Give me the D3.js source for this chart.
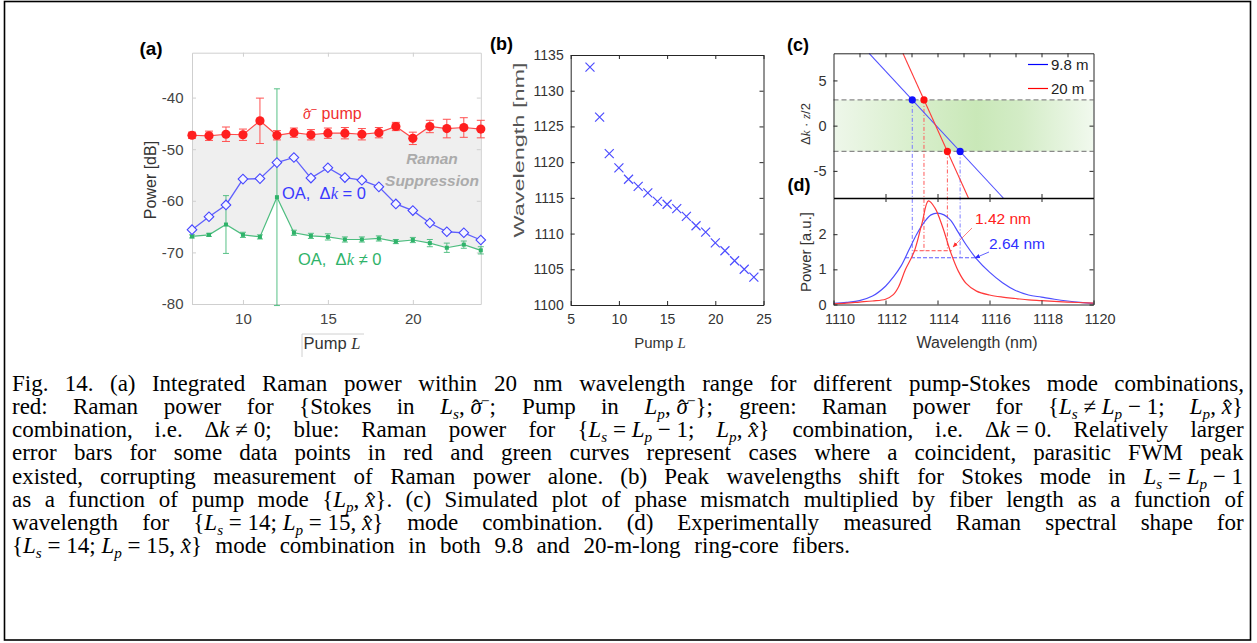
<!DOCTYPE html>
<html><head><meta charset="utf-8">
<script src="https://cdn.jsdelivr.net/npm/d3@7"></script>
<style>body{margin:0;background:#fff}svg{display:block}</style>
</head><body>
<svg id="c" width="1257" height="643"></svg>
<script>
// ---------------- DATA ----------------
const pumpL = [7,8,9,10,11,12,13,14,15,16,17,18,19,20,21,22,23,24];
const sigmaPower = [-47.3,-47.4,-47.1,-47.2,-44.5,-47.3,-46.8,-47.2,-46.9,-46.9,-47.1,-46.8,-45.6,-47.9,-45.6,-46.0,-45.8,-46.1];
const sigmaErr   = [0.6,0.9,1.4,1.1,4.4,0.9,0.9,1.0,1.0,1.1,1.1,1.0,0.8,1.2,1.2,1.8,1.9,1.7];
const oaMatched  = [-65.6,-63.1,-60.8,-55.8,-55.7,-52.6,-51.6,-55.6,-53.6,-55.5,-56.0,-57.3,-60.6,-61.9,-64.3,-66.0,-66.2,-67.6];
const oaMismatch = [-66.9,-66.6,-64.6,-66.6,-67.0,-59.3,-66.2,-66.8,-67.0,-67.5,-67.5,-67.3,-67.9,-67.6,-68.2,-69.1,-68.5,-69.6];
const oaMismatchErr = [0.3,0.3,5.6,0.5,0.4,21,0.5,0.5,0.6,0.5,0.5,0.5,0.4,0.5,0.7,0.9,0.7,0.7];
const peakWavelength = [1133.3,1126.3,1121.2,1119.2,1117.6,1116.6,1115.7,1114.5,1114.1,1113.5,1112.4,1111.1,1110.2,1108.7,1107.6,1106.2,1105.0,1103.9];

const ticksAx = [10,15,20];
const ticksAy = [-80,-70,-60,-50,-40];
const ticksBx = [5,10,15,20,25];
const ticksBy = [1100,1105,1110,1115,1120,1125,1130,1135];

const mismatchWl98 = [1111.37,1116.53];
const mismatchVal98 = [8,-8];
const mismatchWl20 = [1112.67,1115.19];
const mismatchVal20 = [8,-8];
const bandHalf = 2.85;
const crossWl98 = [1113.03,1114.87];
const crossVal98 = [2.85,-2.85];
const crossWl20 = [1113.48,1114.38];
const crossVal20 = [2.85,-2.85];

const specWl98 = [1110,1110.5,1111,1111.5,1112,1112.3,1112.6,1112.9,1113.2,1113.5,1113.75,1114,1114.25,1114.5,1114.8,1115.1,1115.5,1116,1116.5,1117,1117.5,1118,1118.5,1119,1119.5,1120];
const specP98  = [0.03,0.06,0.11,0.24,0.52,0.78,1.1,1.55,2.0,2.35,2.55,2.6,2.55,2.4,2.05,1.7,1.3,0.92,0.62,0.4,0.27,0.21,0.15,0.1,0.06,0.03];
const specWl20 = [1110,1110.5,1111,1111.5,1112,1112.3,1112.5,1112.77,1113.1,1113.4,1113.65,1113.9,1114.2,1114.5,1114.8,1115.1,1115.5,1116,1116.5,1117,1117.5,1118,1119,1120];
const specP20  = [0.02,0.04,0.07,0.1,0.15,0.28,0.5,1.0,1.5,2.3,2.95,2.75,2.2,1.5,0.95,0.6,0.38,0.27,0.21,0.17,0.13,0.11,0.07,0.04];
const halfLevel98 = 1.33, halfLevel20 = 1.53;
const halfSpan98 = [1112.75,1115.45];
const halfSpan20 = [1113.08,1114.55];

const ticksCy = [-5,0,5];
const ticksCtop = [1111,1112,1113,1114,1115,1116,1117,1118,1119];
const ticksDx = [1110,1112,1114,1116,1118,1120];
const ticksDy = [0,1,2];
const legendNames = ["9.8 m","20 m"];

const captionLines = [
 "Fig. 14. (a) Integrated Raman power within 20 nm wavelength range for different pump-Stokes mode combinations,",
 "red: Raman power for {Stokes in @Ls,~@sig; Pump in @Lp,~@sig}; green: Raman power for {@Ls~≠~@Lp~−~1; @Lp,~@xh}",
 "combination, i.e. @dk~≠~0; blue: Raman power for {@Ls~=~@Lp~−~1; @Lp,~@xh} combination, i.e. @dk~=~0. Relatively larger",
 "error bars for some data points in red and green curves represent cases where a coincident, parasitic FWM peak",
 "existed, corrupting measurement of Raman power alone. (b) Peak wavelengths shift for Stokes mode in @Ls~=~@Lp~−~1",
 "as a function of pump mode {@Lp,~@xh}. (c) Simulated plot of phase mismatch multiplied by fiber length as a function of",
 "wavelength for {@Ls~=~14;~@Lp~=~15,~@xh} mode combination. (d) Experimentally measured Raman spectral shape for",
 "{@Ls~=~14;~@Lp~=~15,~@xh} mode combination in both 9.8 and 20-m-long ring-core fibers."
];

// ---------------- DRAW ----------------
const SANS = "'Liberation Sans', Arial, Helvetica, sans-serif";
const SERIF = "'Liberation Serif', 'Times New Roman', serif";
const svg = d3.select('#c');
svg.append('rect').attr('width',1257).attr('height',643).attr('fill','#fff');
svg.append('rect').attr('x',4.5).attr('y',1.5).attr('width',1246).attr('height',638.5)
  .attr('fill','none').attr('stroke','#000').attr('stroke-width',1.6);
const defs = svg.append('defs');
const fmt = d=>String(d);

function styleAxis(g, color, labelColor, fs){
  g.selectAll('.domain').attr('stroke',color);
  g.selectAll('.tick line').attr('stroke',color);
  g.selectAll('.tick text').attr('fill',labelColor).attr('font-family',SANS).attr('font-size',fs);
}

// ===== Panel (a) =====
const xA = d3.scaleLinear().domain([7,24]).range([192,480.8]);
const yA = d3.scaleLinear().domain([-80,-31.3]).range([304,52.7]);
const gA = svg.append('g');
const rowsA = pumpL.map((l,i)=>({l, s:sigmaPower[i], se:sigmaErr[i], m:oaMatched[i], g:oaMismatch[i], ge:oaMismatchErr[i]}));

gA.append('path').datum(rowsA)
  .attr('d', d3.area().x(d=>xA(d.l)).y0(d=>yA(d.g)).y1(d=>yA(d.s)))
  .attr('fill','#efefef');

const axA = [
  gA.append('g').attr('transform','translate(192,0)').call(d3.axisLeft(yA).tickValues(ticksAy).tickSizeInner(-4).tickSizeOuter(0).tickPadding(8.5).tickFormat(fmt)),
  gA.append('g').attr('transform','translate(480.8,0)').call(d3.axisRight(yA).tickValues(ticksAy).tickSizeInner(-4).tickSizeOuter(0).tickFormat('')),
  gA.append('g').attr('transform','translate(0,304)').call(d3.axisBottom(xA).tickValues(ticksAx).tickSizeInner(-4).tickSizeOuter(0).tickPadding(9).tickFormat(fmt)),
  gA.append('g').attr('transform','translate(0,52.7)').call(d3.axisTop(xA).tickValues(ticksAx).tickSizeInner(-4).tickSizeOuter(0).tickFormat(''))
];
axA.forEach(g=>styleAxis(g,'#cfcfcf','#444',15));

const cGreen = '#2fb36a';
gA.append('path').datum(rowsA).attr('d', d3.line().x(d=>xA(d.l)).y(d=>yA(d.g)))
  .attr('fill','none').attr('stroke',cGreen).attr('stroke-width',1.2).attr('opacity',0.85);
const geb = gA.append('g').attr('stroke',cGreen).attr('stroke-width',1).attr('opacity',0.8);
rowsA.forEach(d=>{
  const x=xA(d.l), y0=yA(d.g-d.ge), y1=yA(d.g+d.ge);
  geb.append('line').attr('x1',x).attr('x2',x).attr('y1',y0).attr('y2',y1);
  geb.append('line').attr('x1',x-3).attr('x2',x+3).attr('y1',y0).attr('y2',y0);
  geb.append('line').attr('x1',x-3).attr('x2',x+3).attr('y1',y1).attr('y2',y1);
});
gA.selectAll('rect.gm').data(rowsA).join('rect').attr('class','gm')
  .attr('x',d=>xA(d.l)-2).attr('y',d=>yA(d.g)-2).attr('width',4).attr('height',4).attr('fill',cGreen);

const cBlue = '#4646ff';
gA.append('path').datum(rowsA).attr('d', d3.line().x(d=>xA(d.l)).y(d=>yA(d.m)))
  .attr('fill','none').attr('stroke',cBlue).attr('stroke-width',1.3).attr('opacity',0.85);
gA.selectAll('path.dm').data(rowsA).join('path').attr('class','dm')
  .attr('d', d3.symbol().type(d3.symbolSquare).size(46))
  .attr('transform',d=>`translate(${xA(d.l)},${yA(d.m)}) rotate(45)`)
  .attr('fill','#f4f4ff').attr('stroke',cBlue).attr('stroke-width',1.1);

const cRed = '#ff1f1f';
gA.append('path').datum(rowsA).attr('d', d3.line().x(d=>xA(d.l)).y(d=>yA(d.s)))
  .attr('fill','none').attr('stroke','#ff4a4a').attr('stroke-width',1.2);
const reb = gA.append('g').attr('stroke','#ff5050').attr('stroke-width',1);
rowsA.forEach(d=>{
  const x=xA(d.l), y0=yA(d.s-d.se), y1=yA(d.s+d.se);
  reb.append('line').attr('x1',x).attr('x2',x).attr('y1',y0).attr('y2',y1);
  reb.append('line').attr('x1',x-4).attr('x2',x+4).attr('y1',y0).attr('y2',y0);
  reb.append('line').attr('x1',x-4).attr('x2',x+4).attr('y1',y1).attr('y2',y1);
});
gA.selectAll('circle.rm').data(rowsA).join('circle').attr('class','rm')
  .attr('cx',d=>xA(d.l)).attr('cy',d=>yA(d.s)).attr('r',4.6).attr('fill',cRed);

const tS = gA.append('text').attr('x',303).attr('y',119).attr('font-family',SANS).attr('font-size',16).attr('fill','#f03030');
tS.append('tspan').attr('font-style','italic').attr('font-family',SERIF).text('σ');
tS.append('tspan').attr('font-family',SERIF).attr('dx',-6.8).attr('dy',1).text('ˆ');
tS.append('tspan').attr('dx',1.3).attr('dy',-7).attr('font-size',11).text('−');
tS.append('tspan').attr('dy',6).text(' pump');
gA.append('text').attr('x',432).attr('y',164).attr('text-anchor','middle').attr('font-family',SANS)
  .attr('font-size',15.5).attr('font-weight','bold').attr('font-style','italic').attr('fill','#ababab').text('Raman');
gA.append('text').attr('x',432).attr('y',186).attr('text-anchor','middle').attr('font-family',SANS)
  .attr('font-size',15.5).attr('font-weight','bold').attr('font-style','italic').attr('fill','#ababab').text('Suppression');
function oaLabel(x,y,sym,color){
  const t = gA.append('text').attr('x',x).attr('y',y).attr('font-family',SANS).attr('font-size',16.5).attr('fill',color);
  t.append('tspan').text('OA,\u00a0\u00a0Δ');
  t.append('tspan').attr('font-style','italic').attr('font-family',SERIF).text('k');
  t.append('tspan').text('\u00a0'+sym+'\u00a00');
}
oaLabel(282,199,'=','#3a3aff');
oaLabel(298,265,'≠','#2fb36a');
gA.append('text').attr('transform','translate(156,180) rotate(-90)').attr('text-anchor','middle')
  .attr('font-family',SANS).attr('font-size',16).attr('fill','#333').text('Power [dB]');
const pA = gA.append('text').attr('x',332).attr('y',349).attr('text-anchor','middle').attr('font-family',SANS).attr('font-size',16.5).attr('fill','#333');
pA.append('tspan').text('Pump ');
pA.append('tspan').attr('font-family',SERIF).attr('font-style','italic').text('L');
gA.append('path').attr('d','M302,357V334H364').attr('fill','none').attr('stroke','#d0d0d0');
svg.append('text').attr('x',151).attr('y',55).attr('text-anchor','middle').attr('font-family',SANS)
  .attr('font-size',19).attr('font-weight','bold').attr('fill','#000').text('(a)');

// ===== Panel (b) =====
const xB = d3.scaleLinear().domain([5,25]).range([570.7,763.5]);
const yB = d3.scaleLinear().domain([1100,1135]).range([305,55]);
const gB = svg.append('g');
const axB = [
  gB.append('g').attr('transform','translate(570.7,0)').call(d3.axisLeft(yB).tickValues(ticksBy).tickSizeInner(-4).tickSizeOuter(0).tickPadding(7).tickFormat(fmt)),
  gB.append('g').attr('transform','translate(763.5,0)').call(d3.axisRight(yB).tickValues(ticksBy).tickSizeInner(-4).tickSizeOuter(0).tickFormat('')),
  gB.append('g').attr('transform','translate(0,305)').call(d3.axisBottom(xB).tickValues(ticksBx).tickSizeInner(-4).tickSizeOuter(0).tickPadding(9).tickFormat(fmt)),
  gB.append('g').attr('transform','translate(0,55)').call(d3.axisTop(xB).tickValues(ticksBx).tickSizeInner(-4).tickSizeOuter(0).tickFormat(''))
];
axB.forEach(g=>styleAxis(g,'#262626','#333',14));
gB.selectAll('path.xm').data(pumpL.map((l,i)=>[l,peakWavelength[i]])).join('path').attr('class','xm')
  .attr('d','M-4.5,-4.5L4.5,4.5M-4.5,4.5L4.5,-4.5')
  .attr('transform',d=>`translate(${xB(d[0])},${yB(d[1])})`)
  .attr('stroke','#4d4dff').attr('stroke-width',1.2).attr('fill','none');
gB.append('text').attr('transform','translate(524,150) rotate(-90)').attr('text-anchor','middle')
  .attr('font-family',SANS).attr('font-size',15).attr('fill','#555')
  .attr('textLength',175).attr('lengthAdjust','spacingAndGlyphs').text('Wavelength [nm]');
const pB = gB.append('text').attr('x',660).attr('y',348).attr('text-anchor','middle').attr('font-family',SANS).attr('font-size',15).attr('fill','#333');
pB.append('tspan').text('Pump ');
pB.append('tspan').attr('font-family',SERIF).attr('font-style','italic').text('L');
svg.append('text').attr('x',501.5).attr('y',50).attr('text-anchor','middle').attr('font-family',SANS)
  .attr('font-size',18).attr('font-weight','bold').attr('fill','#000').text('(b)');

// ===== Panels (c) & (d) =====
const xC = d3.scaleLinear().domain([1110,1120]).range([833.5,1093.5]);
const yC = d3.scaleLinear().domain([-8,8]).range([198,53.3]);
const yD = d3.scaleLinear().domain([0,3.03]).range([304.5,198]);
const gC = svg.append('g');

const grad = defs.append('linearGradient').attr('id','band').attr('x1','0').attr('x2','1').attr('y1','0').attr('y2','0');
[[0,'#eef7ea'],[0.3,'#d9efcd'],[0.55,'#c9e8b8'],[0.72,'#d3ecc6'],[1,'#f1f9ee']].forEach(s=>
  grad.append('stop').attr('offset',s[0]).attr('stop-color',s[1]));
gC.append('rect').attr('x',xC(1110)).attr('y',yC(bandHalf)).attr('width',xC(1120)-xC(1110))
  .attr('height',yC(-bandHalf)-yC(bandHalf)).attr('fill','url(#band)');
[bandHalf,-bandHalf].forEach(v=>gC.append('line').attr('x1',xC(1110)).attr('x2',xC(1120))
  .attr('y1',yC(v)).attr('y2',yC(v)).attr('stroke','#8a8a8a').attr('stroke-width',1.2).attr('stroke-dasharray','5,3'));

function guides(ws, vs, level, color){
  ws.forEach((w,i)=>gC.append('line').attr('x1',xC(w)).attr('x2',xC(w)).attr('y1',yC(vs[i])).attr('y2',yD(level))
    .attr('stroke',color).attr('stroke-width',1).attr('stroke-dasharray','4,2,1,2'));
}
guides(crossWl98, crossVal98, halfLevel98, '#7a7aff');
guides(crossWl20, crossVal20, halfLevel20, '#ff5a5a');
gC.append('line').attr('x1',xC(halfSpan98[0])).attr('x2',xC(halfSpan98[1])).attr('y1',yD(halfLevel98)).attr('y2',yD(halfLevel98))
  .attr('stroke','#5a5aff').attr('stroke-dasharray','4,2');
gC.append('line').attr('x1',xC(halfSpan20[0])).attr('x2',xC(halfSpan20[1])).attr('y1',yD(halfLevel20)).attr('y2',yD(halfLevel20))
  .attr('stroke','#ff4a4a').attr('stroke-dasharray','4,2');

const lineC = d3.line().x(d=>xC(d[0])).y(d=>yC(d[1]));
gC.append('path').datum(mismatchWl98.map((w,i)=>[w,mismatchVal98[i]])).attr('d',lineC)
  .attr('stroke','#4f4fff').attr('stroke-width',1.1).attr('fill','none');
gC.append('path').datum(mismatchWl20.map((w,i)=>[w,mismatchVal20[i]])).attr('d',lineC)
  .attr('stroke','#ff3a3a').attr('stroke-width',1.1).attr('fill','none');
crossWl98.forEach((w,i)=>gC.append('circle').attr('cx',xC(w)).attr('cy',yC(crossVal98[i])).attr('r',3.6).attr('fill','#1010ff'));
crossWl20.forEach((w,i)=>gC.append('circle').attr('cx',xC(w)).attr('cy',yC(crossVal20[i])).attr('r',3.6).attr('fill','#ff1010'));

defs.append('clipPath').attr('id','clipD').append('rect').attr('x',833.5).attr('y',198).attr('width',260).attr('height',107);
const lineD = d3.line().x(d=>xC(d[0])).y(d=>yD(d[1])).curve(d3.curveCatmullRom.alpha(0.5));
gC.append('path').datum(specWl98.map((w,i)=>[w,specP98[i]])).attr('d',lineD).attr('clip-path','url(#clipD)')
  .attr('stroke','#4f4fff').attr('stroke-width',1.2).attr('fill','none');
gC.append('path').datum(specWl20.map((w,i)=>[w,specP20[i]])).attr('d',lineD).attr('clip-path','url(#clipD)')
  .attr('stroke','#ff3a3a').attr('stroke-width',1.2).attr('fill','none');

const axC = [
  gC.append('g').attr('transform','translate(833.5,0)').call(d3.axisLeft(yC).tickValues(ticksCy).tickSizeInner(-4).tickSizeOuter(0).tickPadding(7).tickFormat(fmt)),
  gC.append('g').attr('transform','translate(1093.5,0)').call(d3.axisRight(yC).tickValues(ticksCy).tickSizeInner(-4).tickSizeOuter(0).tickFormat('')),
  gC.append('g').attr('transform','translate(0,53.3)').call(d3.axisTop(xC).tickValues(ticksCtop).tickSizeInner(-4).tickSizeOuter(0).tickFormat('')),
  gC.append('g').attr('transform','translate(0,198)').call(d3.axisBottom(xC).tickValues([1112,1114,1116,1118]).tickSizeInner(4).tickSizeOuter(0).tickFormat(''))
];
axC.forEach(g=>styleAxis(g,'#262626','#333',14.5));
axC[3].selectAll('.tick line').attr('y1',-4);
axC[3].selectAll('.domain').attr('stroke','#000').attr('stroke-width',1.3);
const axD = [
  gC.append('g').attr('transform','translate(833.5,0)').call(d3.axisLeft(yD).tickValues(ticksDy).tickSizeInner(-4).tickSizeOuter(0).tickPadding(7).tickFormat(fmt)),
  gC.append('g').attr('transform','translate(1093.5,0)').call(d3.axisRight(yD).tickValues(ticksDy).tickSizeInner(-4).tickSizeOuter(0).tickFormat('')),
  gC.append('g').attr('transform','translate(0,304.5)').call(d3.axisBottom(xC).tickValues(ticksDx).tickSizeInner(-4).tickSizeOuter(0).tickPadding(9).tickFormat(fmt))
];
axD.forEach(g=>styleAxis(g,'#262626','#333',14.5));
axD[2].selectAll('.tick text').attr('dx',6);

[['#0000ff',64.5],['#ff0000',88.5]].forEach((c,i)=>{
  gC.append('line').attr('x1',1028).attr('x2',1048).attr('y1',c[1]).attr('y2',c[1]).attr('stroke',c[0]).attr('stroke-width',1.2);
  gC.append('text').attr('x',1051).attr('y',c[1]+5.5).attr('font-family',SANS).attr('font-size',15).attr('fill','#222').text(legendNames[i]);
});

const mk = (id,color)=>defs.append('marker').attr('id',id).attr('viewBox','0 0 10 10').attr('refX',9).attr('refY',5)
  .attr('markerWidth',6).attr('markerHeight',6).attr('orient','auto')
  .append('path').attr('d','M0,1L10,5L0,9Z').attr('fill',color);
mk('arR','#ff3030'); mk('arB','#3030ff');
gC.append('line').attr('x1',972).attr('y1',228).attr('x2',953).attr('y2',247).attr('stroke','#ff7070').attr('stroke-width',0.9).attr('marker-end','url(#arR)');
gC.append('line').attr('x1',989).attr('y1',252).attr('x2',975).attr('y2',258).attr('stroke','#5050ff').attr('stroke-width',0.9).attr('marker-end','url(#arB)');
gC.append('text').attr('x',975).attr('y',224).attr('font-family',SANS).attr('font-size',15.5).attr('fill','#ff2020').text('1.42 nm');
gC.append('text').attr('x',989).attr('y',249).attr('font-family',SANS).attr('font-size',15.5).attr('fill','#3030ff').text('2.64 nm');

const tC = gC.append('text').attr('transform','translate(810,124) rotate(-90)').attr('text-anchor','middle')
  .attr('font-family',SANS).attr('font-size',13).attr('fill','#333');
tC.append('tspan').text('Δ');
tC.append('tspan').attr('font-family',SERIF).attr('font-style','italic').text('k');
tC.append('tspan').text(' · ');
tC.append('tspan').attr('font-family',SERIF).attr('font-style','italic').text('z');
tC.append('tspan').text('/2');
gC.append('text').attr('transform','translate(811,252) rotate(-90)').attr('text-anchor','middle')
  .attr('font-family',SANS).attr('font-size',15).attr('fill','#333').text('Power [a.u.]');
gC.append('text').attr('x',977).attr('y',348).attr('text-anchor','middle')
  .attr('font-family',SANS).attr('font-size',16).attr('fill','#333').text('Wavelength (nm)');
svg.append('text').attr('x',798).attr('y',51).attr('text-anchor','middle').attr('font-family',SANS)
  .attr('font-size',18).attr('font-weight','bold').attr('fill','#000').text('(c)');
svg.append('text').attr('x',799).attr('y',191).attr('text-anchor','middle').attr('font-family',SANS)
  .attr('font-size',18).attr('font-weight','bold').attr('fill','#000').text('(d)');

// ===== Caption (one text element per line, words justified) =====
const CAP_FS = 23, CAP_X0 = 12, CAP_X1 = 1244, CAP_LAST_END = 850, CAP_Y0 = 391, CAP_DY = 23.15;
function parseWord(w){
  const parts = w.split(/(@Ls|@Lp|@sig|@xh|@dk)/).filter(s=>s!=='');
  const segs=[];
  parts.forEach(p=>{
    if(p==='@Ls'){segs.push({t:'L',it:1});segs.push({t:'s',it:1,sh:'sub'});}
    else if(p==='@Lp'){segs.push({t:'L',it:1});segs.push({t:'p',it:1,sh:'sub'});}
    else if(p==='@sig'){segs.push({t:'σ',it:1});segs.push({t:'ˆ',sh:'hat',dx:-0.43});segs.push({t:'−',sh:'sup',dx:0.06});}
    else if(p==='@xh'){segs.push({t:'x',it:1});segs.push({t:'ˆ',sh:'hat',dx:-0.39});segs.push({restore:0.06});}
    else if(p==='@dk'){segs.push({t:'Δ'});segs.push({t:'k',it:1});}
    else segs.push({t:p.replace(/~/g,'\u00a0')});
  });
  return segs;
}
const shiftOf = {sub:5, sup:-8, hat:2};
function fillWord(parent, w, x, y){
  let cur = 0, pendDx = 0, first = true;
  parseWord(w).forEach(s=>{
    if(s.restore!==undefined){pendDx += s.restore; return;}
    const target = s.sh ? shiftOf[s.sh] : 0;
    const ts = parent.append('tspan').text(s.t);
    if(first){ ts.attr('x',x).attr('y',y+target); cur=target; first=false; }
    else if(target!==cur){ ts.attr('dy',target-cur); cur=target; }
    const dx = (s.dx||0) + pendDx; pendDx = 0;
    if(dx!==0) ts.attr('dx',(dx*CAP_FS).toFixed(2));
    if(s.it) ts.attr('font-style','italic');
    if(s.sh==='sub'||s.sh==='sup') ts.attr('font-size',CAP_FS*0.66);
  });
}
const capG = svg.append('g').attr('font-family',SERIF).attr('font-size',CAP_FS).attr('fill','#000');
const meas = capG.append('text').attr('x',0).attr('y',-100);
captionLines.forEach((line,li)=>{
  const y = CAP_Y0 + li*CAP_DY;
  const words = line.split(' ');
  const widths = words.map(w=>{
    meas.selectAll('*').remove();
    fillWord(meas, w, 0, -100);
    return meas.node().getBBox().width;
  });
  const total = d3.sum(widths);
  const end = (li === captionLines.length-1) ? CAP_LAST_END : CAP_X1;
  const gap = Math.max(CAP_FS*0.2, (end-CAP_X0-total)/(words.length-1));
  const t = capG.append('text');
  let x = CAP_X0;
  words.forEach((w,i)=>{ fillWord(t, w, x, y); x += widths[i]+gap; });
});
meas.remove();
</script>
</body></html>
